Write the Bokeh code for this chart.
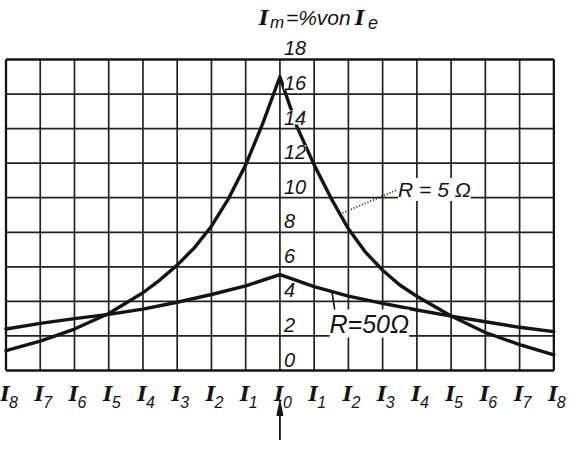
from bokeh.plotting import figure
from bokeh.models import ColumnDataSource, LabelSet, Range1d
from bokeh.core.properties import value
from bokeh.embed import file_html
from bokeh.resources import INLINE

# ---------------- data ----------------
grid_x = list(range(-8, 9))                 # I8 ... I0 ... I8
grid_y = list(range(0, 19, 2))              # 0 ... 18
y_tick_labels = [str(v) for v in grid_y]
x_sub_labels = ["8", "7", "6", "5", "4", "3", "2", "1", "0",
                "1", "2", "3", "4", "5", "6", "7", "8"]

# R = 5 Ohm curve
x_r5 = [-8, -7, -6, -5, -4, -3.5, -3, -2.5, -2, -1.5, -1, -0.5, 0,
        0.5, 1, 1.5, 2, 2.5, 3, 3.5, 4, 5, 6, 7, 8]
y_r5 = [1.15, 1.7, 2.4, 3.3, 4.5, 5.25, 6.1, 7.1, 8.35, 9.95, 11.9, 14.3, 17.0,
        14.1, 11.9, 9.95, 8.2, 6.85, 5.8, 4.95, 4.3, 3.15, 2.2, 1.5, 0.91]

# R = 50 Ohm curve
x_r50 = list(range(-8, 9))
y_r50 = [2.4, 2.73, 3.0, 3.25, 3.55, 3.95, 4.4, 4.9, 5.55,
         4.85, 4.3, 3.88, 3.5, 3.15, 2.82, 2.5, 2.25]

# curve annotations
lab_r5 = "R = 5 \u03a9"
lab_r50 = "R=50\u03a9"
lead_r5_x = [1.75, 3.42]
lead_r5_y = [9.05, 10.45]
lead_r50_x = [1.52, 1.61]
lead_r50_y = [4.55, 3.4]

# ---------------- geometry ----------------
W, H = 568, 440
PXX = 34.24      # px per x unit
PXY = 17.278     # px per y unit
left_px = 5.5    # px position of x = -8
zero_py = 370.0  # px (from top) of y = 0

x0 = -8 - left_px / PXX
y0 = -(H - zero_py) / PXY

p = figure(width=W, height=H,
           x_range=Range1d(x0, x0 + W / PXX),
           y_range=Range1d(y0, y0 + H / PXY),
           x_axis_type=None, y_axis_type=None,
           output_backend="svg", toolbar_location=None,
           min_border=0, outline_line_color=None,
           background_fill_color="white", border_fill_color="white")

INK = "#141414"
GRID = "#222222"

# grid
inner_x = grid_x[1:-1]
inner_y = grid_y[1:-1]
p.segment(x0=inner_x, y0=[grid_y[0]] * len(inner_x), x1=inner_x,
          y1=[grid_y[-1]] * len(inner_x), line_color=GRID, line_width=1.7)
p.segment(x0=[grid_x[0]] * len(inner_y), y0=inner_y, x1=[grid_x[-1]] * len(inner_y),
          y1=inner_y, line_color=GRID, line_width=1.7)
# frame
p.segment(x0=[grid_x[0], grid_x[-1]], y0=[grid_y[0]] * 2, x1=[grid_x[0], grid_x[-1]],
          y1=[grid_y[-1]] * 2, line_color=INK, line_width=2.3)
p.segment(x0=[grid_x[0]] * 2, y0=[grid_y[0], grid_y[-1]], x1=[grid_x[-1]] * 2,
          y1=[grid_y[0], grid_y[-1]], line_color=INK, line_width=2.3)

# curves
p.line(x_r5, y_r5, line_color=INK, line_width=3.4, line_join="round", line_cap="round")
p.line(x_r50, y_r50, line_color=INK, line_width=3.4, line_join="round", line_cap="round")

# leader lines
p.line(lead_r5_x, lead_r5_y, line_color=INK, line_width=1.8, line_dash="1 2")
p.line(lead_r50_x, lead_r50_y, line_color=INK, line_width=1.6)

SANS = value("Liberation Sans")
SERIF = value("DejaVu Serif")

# y labels along I0
ysrc = ColumnDataSource(dict(x=[0] * len(grid_y), y=grid_y, t=y_tick_labels))
p.add_layout(LabelSet(x="x", y="y", text="t", source=ysrc, x_offset=4, y_offset=4,
                      text_font=SANS, text_font_style="italic", text_font_size="20px",
                      text_color=INK, text_align="left", text_baseline="alphabetic",
                      background_fill_color="white"))

# curve labels
csrc = ColumnDataSource(dict(x=[3.45, 1.45], y=[10.48, 2.72], t=[lab_r5, lab_r50],
                             fs=["21px", "25px"]))
p.add_layout(LabelSet(x="x", y="y", text="t", source=csrc,
                      text_font=SANS, text_font_style="italic", text_font_size="fs",
                      text_color=INK, text_align="left", text_baseline="middle",
                      background_fill_color="white"))

# x tick labels: I with subscripts
p.text(x=grid_x, y=[0] * len(grid_x), text=["I"] * len(grid_x), x_offset=-1, y_offset=23,
       text_font=SERIF, text_font_style="bold italic", text_font_size="20px",
       text_color=INK, text_align="center", text_baseline="alphabetic")
p.text(x=grid_x, y=[0] * len(grid_x), text=x_sub_labels, x_offset=3, y_offset=31,
       text_font=SANS, text_font_style="italic", text_font_size="16px",
       text_color=INK, text_align="left", text_baseline="alphabetic")

# title  I_m = % von I_e
top = grid_y[-1]
p.text(x=[0], y=[top], text=["I"], x_offset=-21, y_offset=-41,
       text_font=SERIF, text_font_style="bold italic", text_font_size="20px",
       text_color=INK, text_align="left", text_baseline="alphabetic")
p.text(x=[0], y=[top], text=["m"], x_offset=-10, y_offset=-37,
       text_font=SANS, text_font_style="italic", text_font_size="17px",
       text_color=INK, text_align="left", text_baseline="alphabetic")
p.text(x=[0], y=[top], text=["=%von"], x_offset=6, y_offset=-42,
       text_font=SANS, text_font_style="italic", text_font_size="21px",
       text_color=INK, text_align="left", text_baseline="alphabetic")
p.text(x=[0], y=[top], text=["I"], x_offset=75, y_offset=-41,
       text_font=SERIF, text_font_style="bold italic", text_font_size="20px",
       text_color=INK, text_align="left", text_baseline="alphabetic")
p.text(x=[0], y=[top], text=["e"], x_offset=88, y_offset=-37,
       text_font=SANS, text_font_style="italic", text_font_size="18px",
       text_color=INK, text_align="left", text_baseline="alphabetic")

# arrow pointing up at I0
tip_y = -30 / PXY
base_y = -45 / PXY
half_w = 3.0 / PXX
p.segment(x0=[0], y0=[y0], x1=[0], y1=[base_y], line_color=INK, line_width=1.8)
p.patch([-half_w, 0, half_w], [base_y, tip_y, base_y], fill_color=INK, line_color=INK,
        line_width=1)

open("out.html", "w").write(file_html(p, INLINE))
